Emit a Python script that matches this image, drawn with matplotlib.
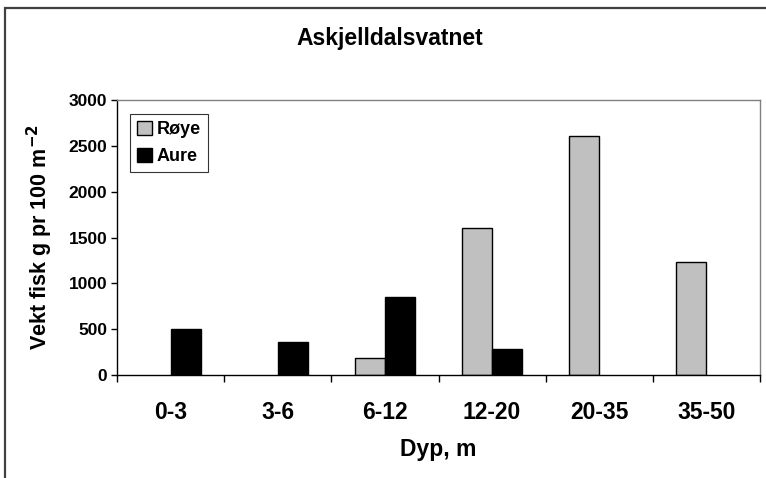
import numpy as np
import matplotlib.pyplot as plt
from matplotlib.patches import Rectangle

plt.rcParams['font.family'] = ['Liberation Sans', 'DejaVu Sans']

# data
dyp = ['0-3', '3-6', '6-12', '12-20', '20-35', '35-50']
roye = [0, 0, 190, 1600, 2610, 1230]
aure = [500, 360, 850, 280, 0, 0]
yticks = [0, 500, 1000, 1500, 2000, 2500, 3000]

fig = plt.figure(figsize=(7.66, 4.78), dpi=100)
ax = fig.add_axes([117/766, 1 - 375/478, (760 - 117)/766, (375 - 100)/478])

# outer chart frame (cut off at right and bottom like the original)
fig.patches.append(Rectangle((5/766, -0.1), 1.2, 0.1 + (478 - 8)/478,
                             transform=fig.transFigure, fill=False,
                             edgecolor='#404040', linewidth=1.6))

x = np.arange(len(dyp))
w = 0.28
# no outline for empty bars (Excel draws nothing there)
lw_r = [1 if v > 0 else 0 for v in roye]
lw_a = [1 if v > 0 else 0 for v in aure]
ax.bar(x - w/2, roye, w, color='#c0c0c0', edgecolor='black', linewidth=lw_r, label='Røye')
ax.bar(x + w/2, aure, w, color='black', edgecolor='black', linewidth=lw_a, label='Aure')

ax.set_xlim(-0.5, len(dyp) - 0.5)
ax.set_ylim(0, 3000)
ax.set_yticks(yticks)
ax.set_yticklabels([str(v) for v in yticks], fontsize=12.5, fontweight='bold')
ax.set_xticks(x)
ax.set_xticklabels(dyp, fontsize=16.5, fontweight='bold')
ax.set_xticks(np.arange(-0.5, len(dyp)), minor=True)
ax.tick_params(axis='x', which='major', length=0, pad=19)
ax.tick_params(axis='x', which='minor', length=5, width=1, direction='out')
ax.tick_params(axis='y', length=4, width=1, direction='out', pad=3)

for s in ['top', 'right']:
    ax.spines[s].set_color('#808080')
    ax.spines[s].set_linewidth(1)
for s in ['left', 'bottom']:
    ax.spines[s].set_color('black')
    ax.spines[s].set_linewidth(1)

ax.set_xlabel('Dyp, m', fontsize=16.5, fontweight='bold', labelpad=10)
ax.set_ylabel('Vekt fisk g pr 100 m$^{\\mathbf{-2}}$', fontsize=15.5, fontweight='bold', labelpad=10)

fig.text(390/766, 1 - 39/478, 'Askjelldalsvatnet', ha='center', va='center',
         fontsize=16.5, fontweight='bold')

leg = ax.legend(loc='upper left', bbox_to_anchor=(0.02, 0.95), frameon=True, fancybox=False,
                edgecolor='black', prop={'weight': 'bold', 'size': 13},
                handlelength=0.8, handleheight=0.8, handletextpad=0.3,
                borderpad=0.4, labelspacing=0.55, borderaxespad=0)
leg.get_frame().set_linewidth(0.8)
for h in leg.legend_handles:
    h.set_linewidth(1)
    h.set_edgecolor('black')

fig.savefig('out.png', dpi=100)
